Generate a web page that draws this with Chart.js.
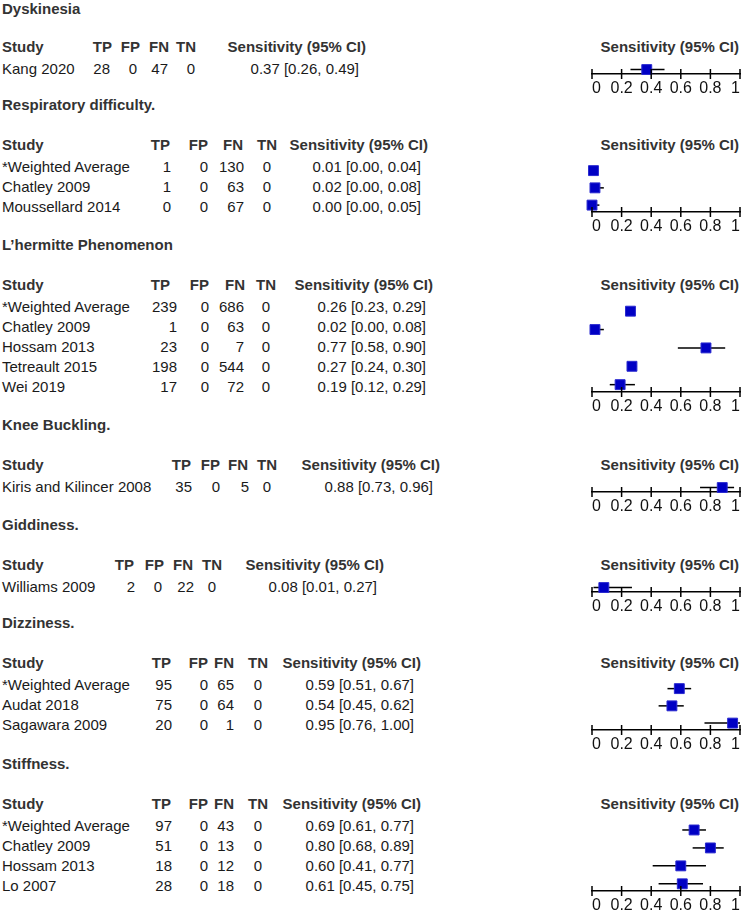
<!DOCTYPE html>
<html>
<head>
<meta charset="utf-8">
<script src="https://cdn.jsdelivr.net/npm/chart.js@4.4.1/dist/chart.umd.min.js"></script>
<style>
  html, body { margin: 0; padding: 0; background: #fff; overflow: hidden; }
  #page { position: relative; width: 742px; height: 911px; font-family: "Liberation Sans", Arial, sans-serif; font-size: 15px; color: #1a1a1a; }
  .t { position: absolute; white-space: nowrap; line-height: 18px; }
  .b { font-weight: bold; color: #333; }
  .r { transform: translateX(-100%); }
  .c { transform: translateX(-50%); }
  canvas { position: absolute; }
</style>
</head>
<body>
<div id="page"></div>
<script>
// data, one entry per outcome
const titles = ['Dyskinesia', 'Respiratory difficulty.', 'L\u2019hermitte Phenomenon', 'Knee Buckling.', 'Giddiness.', 'Dizziness.', 'Stiffness.'];
const studies = [
  ['Kang 2020'],
  ['*Weighted Average', 'Chatley 2009', 'Moussellard 2014'],
  ['*Weighted Average', 'Chatley 2009', 'Hossam 2013', 'Tetreault 2015', 'Wei 2019'],
  ['Kiris and Kilincer 2008'],
  ['Williams 2009'],
  ['*Weighted Average', 'Audat 2018', 'Sagawara 2009'],
  ['*Weighted Average', 'Chatley 2009', 'Hossam 2013', 'Lo 2007']
];
const tp = [[28], [1, 1, 0], [239, 1, 23, 198, 17], [35], [2], [95, 75, 20], [97, 51, 18, 28]];
const fp = [[0], [0, 0, 0], [0, 0, 0, 0, 0], [0], [0], [0, 0, 0], [0, 0, 0, 0]];
const fn = [[47], [130, 63, 67], [686, 63, 7, 544, 72], [5], [22], [65, 64, 1], [43, 13, 12, 18]];
const tn = [[0], [0, 0, 0], [0, 0, 0, 0, 0], [0], [0], [0, 0, 0], [0, 0, 0, 0]];
const sens = [[0.37], [0.01, 0.02, 0.00], [0.26, 0.02, 0.77, 0.27, 0.19], [0.88], [0.08], [0.59, 0.54, 0.95], [0.69, 0.80, 0.60, 0.61]];
const ciLow = [[0.26], [0.00, 0.00, 0.00], [0.23, 0.00, 0.58, 0.24, 0.12], [0.73], [0.01], [0.51, 0.45, 0.76], [0.61, 0.68, 0.41, 0.45]];
const ciHigh = [[0.49], [0.04, 0.08, 0.05], [0.29, 0.08, 0.90, 0.30, 0.29], [0.96], [0.27], [0.67, 0.62, 1.00], [0.77, 0.89, 0.77, 0.75]];
const tickValues = [0, 0.2, 0.4, 0.6, 0.8, 1];

// layout: header right edges (TP, FP, FN, TN) and cell right edges (TP, FP, FN) + TN cell centre
const headerY = [47, 145, 285, 465, 565, 663, 804];
const hdrRight = [
  [112, 140, 169, 196],
  [170, 208, 243, 277],
  [170, 209, 245, 276],
  [191, 220, 248, 277],
  [134, 164, 193, 222],
  [171, 208, 234, 268],
  [171, 208, 234, 268]
];
const cellPos = [
  [110, 137, 168, 191],
  [171, 208, 244, 267],
  [177, 209, 244, 266],
  [192, 220, 249, 267],
  [135, 162, 194, 212],
  [172, 208, 234, 258],
  [172, 208, 234, 258]
];
const ciRight = [359, 421, 426, 433, 377, 414, 414];

const page = document.getElementById('page');

function addText(txt, x, y, cls) {
  const d = document.createElement('div');
  d.className = 't ' + (cls || '');
  d.textContent = txt;
  d.style.left = x + 'px';
  d.style.top = Math.max(0, y - 9) + 'px';
  page.appendChild(d);
}

const tickMarks = {
  id: 'tickMarks',
  afterDraw(chart) {
    const sx = chart.scales.x, ctx = chart.ctx, y0 = sx.top;
    ctx.save();
    ctx.strokeStyle = '#000';
    ctx.lineWidth = 1.5;
    sx.ticks.forEach(t => {
      const px = sx.getPixelForValue(t.value);
      ctx.beginPath();
      ctx.moveTo(px, y0 - 5);
      ctx.lineTo(px, y0 + 5);
      ctx.stroke();
    });
    ctx.restore();
  }
};

titles.forEach((title, s) => {
  const H = headerY[s];
  const hr = hdrRight[s];
  const cp = cellPos[s];
  const n = studies[s].length;

  addText(title, 2, H - 40, 'b');
  addText('Study', 2, H, 'b');
  addText('TP', hr[0], H, 'b r');
  addText('FP', hr[1], H, 'b r');
  addText('FN', hr[2], H, 'b r');
  addText('TN', hr[3], H, 'b r');
  addText('Sensitivity (95% CI)', ciRight[s] + 7, H, 'b r');
  addText('Sensitivity (95% CI)', 739, H, 'b r');

  studies[s].forEach((name, i) => {
    const y = H + 22 + 20 * i;
    addText(name, 2, y);
    addText(String(tp[s][i]), cp[0], y, 'r');
    addText(String(fp[s][i]), cp[1], y, 'r');
    addText(String(fn[s][i]), cp[2], y, 'r');
    addText(String(tn[s][i]), cp[3], y, 'c');
    addText(sens[s][i].toFixed(2) + ' [' + ciLow[s][i].toFixed(2) + ', ' + ciHigh[s][i].toFixed(2) + ']', ciRight[s], y, 'r');
  });

  const canvas = document.createElement('canvas');
  const h = Math.round(20 * (n - 0.1)) + 30;
  canvas.width = 190;
  canvas.height = h;
  canvas.style.left = '572px';
  canvas.style.top = (H + 9) + 'px';
  page.appendChild(canvas);

  const ciSets = studies[s].map((name, i) => ({
    label: name,
    data: [{x: ciLow[s][i], y: i}, {x: ciHigh[s][i], y: i}],
    showLine: true,
    borderColor: '#000',
    borderWidth: 1.5,
    pointRadius: 0,
    clip: false,
    order: 1
  }));

  new Chart(canvas.getContext('2d'), {
    type: 'scatter',
    data: {
      datasets: [{
        label: 'Sensitivity',
        data: sens[s].map((v, i) => ({x: v, y: i})),
        pointStyle: 'rect',
        pointRadius: 7,
        backgroundColor: '#0000c4',
        borderColor: '#2a2ad0',
        borderWidth: 1,
        clip: false,
        order: 0
      }].concat(ciSets)
    },
    options: {
      responsive: false,
      animation: false,
      layout: { padding: { left: 20, right: 22, top: 0, bottom: 0 } },
      plugins: { legend: { display: false }, tooltip: { enabled: false } },
      scales: {
        x: {
          type: 'linear',
          min: 0,
          max: 1,
          afterBuildTicks: sc => { sc.ticks = tickValues.map(v => ({value: v})); },
          afterFit: sc => { sc.height = 30; },
          grid: { display: false, drawTicks: false },
          border: { display: true, color: '#000', width: 1.5 },
          ticks: {
            padding: 5,
            align: 'inner',
            color: '#111',
            font: { family: 'Liberation Sans', size: 16 },
            callback: v => String(v)
          }
        },
        y: {
          type: 'linear',
          display: false,
          reverse: true,
          min: -0.5,
          max: n - 0.6
        }
      }
    },
    plugins: [tickMarks]
  });
});
</script>
</body>
</html>
